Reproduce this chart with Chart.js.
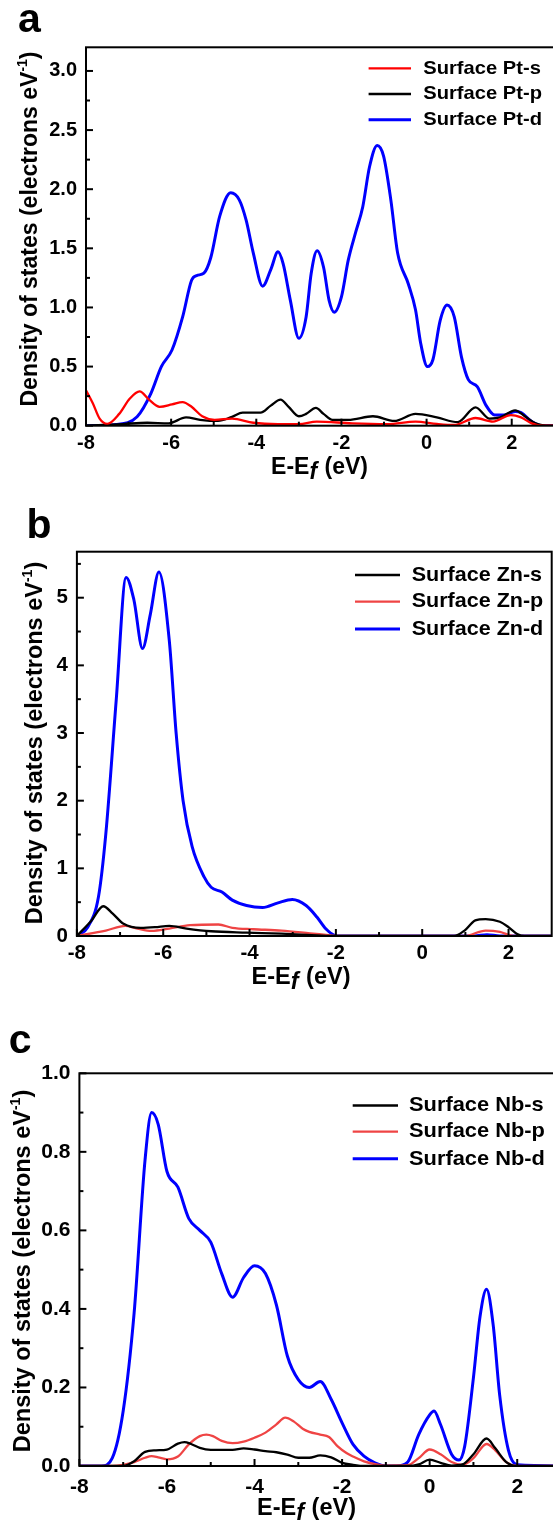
<!DOCTYPE html>
<html>
<head>
<meta charset="utf-8">
<script src="https://cdn.jsdelivr.net/npm/chart.js@4.4.0/dist/chart.umd.min.js"></script>
<style>
    html, body { margin: 0; padding: 0; background: #fff; overflow: hidden; }
    body { width: 553px; height: 1525px; position: relative; }
    canvas { position: absolute; left: 0; }
</style>
</head>
<body>
<canvas id="chartA" width="570" height="500" style="top:0px"></canvas>
<canvas id="chartB" width="570" height="500" style="top:500px"></canvas>
<canvas id="chartC" width="575" height="525" style="top:1000px"></canvas>
<script>
// x axis (E - Ef, eV), same for all panels
const xTicks = [-8, -6, -4, -2, 0, 2];
const xMinor = [-7, -5, -3, -1, 1];

// panel a: surface Pt
const ptTicks = [0, 0.5, 1, 1.5, 2, 2.5, 3];
const ptMinor = [0.25, 0.75, 1.25, 1.75, 2.25, 2.75];
const ptS_E = [-8, -7.84, -7.68, -7.5, -7.22, -6.97, -6.74, -6.52, -6.27, -5.98, -5.73, -5.52, -5.27, -4.98, -4.57, -4.07, -3.49, -3.0, -2.58, -1.75, -0.92, -0.26, 0.24, 0.65, 1.15, 1.56, 1.98, 2.22, 2.47, 2.72, 3];
const ptS = [0.30, 0.19, 0.06, 0.015, 0.10, 0.23, 0.29, 0.22, 0.16, 0.18, 0.20, 0.16, 0.08, 0.05, 0.06, 0.025, 0.014, 0.014, 0.035, 0.02, 0.014, 0.035, 0.015, 0.006, 0.065, 0.035, 0.09, 0.07, 0.02, 0, 0];
const ptP_E = [-8, -7.14, -6.56, -6.06, -5.65, -5.32, -4.9, -4.57, -4.32, -3.9, -3.66, -3.43, -3.24, -3.0, -2.83, -2.6, -2.42, -2.21, -1.84, -1.26, -0.76, -0.26, 0.24, 0.73, 1.15, 1.48, 1.73, 2.08, 2.31, 2.56, 2.9, 3];
const ptP = [0, 0.014, 0.025, 0.02, 0.07, 0.05, 0.04, 0.075, 0.11, 0.11, 0.17, 0.22, 0.16, 0.08, 0.10, 0.15, 0.10, 0.05, 0.05, 0.08, 0.04, 0.10, 0.07, 0.03, 0.155, 0.06, 0.07, 0.13, 0.08, 0.02, 0, 0];
const ptD_E = [-8, -7.3, -6.8, -6.48, -6.23, -5.98, -5.73, -5.52, -5.4, -5.23, -5.07, -4.86, -4.6, -4.4, -4.24, -4.07, -3.85, -3.66, -3.49, -3.37, -3.2, -3.0, -2.83, -2.71, -2.57, -2.42, -2.29, -2.17, -2.0, -1.84, -1.67, -1.5, -1.34, -1.16, -1.01, -0.84, -0.68, -0.43, -0.26, -0.14, 0.02, 0.15, 0.32, 0.48, 0.65, 0.82, 0.98, 1.19, 1.4, 1.6, 1.81, 2.08, 2.22, 2.47, 2.72, 3];
const ptD = [0, 0.01, 0.076, 0.27, 0.50, 0.64, 0.92, 1.23, 1.27, 1.29, 1.42, 1.77, 1.97, 1.91, 1.74, 1.46, 1.18, 1.32, 1.47, 1.37, 1.06, 0.74, 0.92, 1.29, 1.48, 1.34, 1.06, 0.96, 1.09, 1.40, 1.63, 1.85, 2.19, 2.37, 2.28, 1.91, 1.46, 1.20, 0.98, 0.70, 0.50, 0.56, 0.89, 1.02, 0.92, 0.58, 0.39, 0.33, 0.17, 0.09, 0.09, 0.12, 0.11, 0.035, 0, 0];

// panel b: surface Zn
const znTicks = [0, 1, 2, 3, 4, 5];
const znMinor = [0.5, 1.5, 2.5, 3.5, 4.5, 5.5];
const znS_E = [-8, -7.66, -7.39, -7.17, -6.92, -6.52, -6.19, -5.86, -5.46, -4.89, -4.07, -3.26, -2.44, -2.03, 0.74, 0.98, 1.23, 1.47, 1.8, 2.0, 2.2, 2.37, 3];
const znS = [0, 0.23, 0.44, 0.33, 0.18, 0.12, 0.13, 0.15, 0.11, 0.07, 0.05, 0.035, 0.01, 0, 0, 0.08, 0.23, 0.25, 0.21, 0.13, 0.03, 0, 0];
const znP_E = [-8, -7.33, -6.88, -6.6, -6.27, -5.86, -5.38, -4.72, -4.4, -3.91, -3.26, -2.6, -2.12, -1.95, 0.98, 1.47, 1.8, 2.04, 2.2, 3];
const znP = [0, 0.08, 0.15, 0.11, 0.075, 0.11, 0.16, 0.17, 0.12, 0.10, 0.08, 0.04, 0.01, 0, 0, 0.08, 0.06, 0.01, 0, 0];
const znD_E = [-8, -7.75, -7.5, -7.33, -7.09, -6.86, -6.68, -6.48, -6.3, -6.1, -5.86, -5.7, -5.54, -5.33, -5.05, -4.89, -4.64, -4.4, -4.07, -3.7, -3.34, -3.01, -2.69, -2.44, -2.24, -2.03, -1.9, 1.2, 1.5, 1.8, 3];
const znD = [0, 0.13, 0.58, 1.51, 3.48, 5.30, 4.97, 4.25, 4.75, 5.38, 4.37, 2.99, 2.0, 1.32, 0.87, 0.72, 0.65, 0.53, 0.45, 0.42, 0.49, 0.54, 0.45, 0.28, 0.11, 0.01, 0, 0, 0.02, 0, 0];

// panel c: surface Nb
const nbTicks = [0, 0.2, 0.4, 0.6, 0.8, 1.0];
const nbMinor = [0.1, 0.3, 0.5, 0.7, 0.9];
const nbS_E = [-8, -7, -6.75, -6.5, -6.25, -6.0, -5.75, -5.6, -5.45, -5.25, -5.0, -4.5, -4.25, -4.0, -3.75, -3.5, -3.25, -3.0, -2.75, -2.5, -2.25, -2.0, -1.75, -1.5, -0.5, -0.25, 0.0, 0.25, 0.5, 0.75, 1.0, 1.3, 1.5, 1.75, 2.0, 3.0];
const nbS = [0, 0, 0.012, 0.036, 0.04, 0.042, 0.057, 0.061, 0.056, 0.046, 0.041, 0.041, 0.045, 0.042, 0.038, 0.035, 0.029, 0.021, 0.021, 0.027, 0.022, 0.008, 0.003, 0, 0, 0.004, 0.016, 0.008, 0.001, 0.004, 0.03, 0.07, 0.045, 0.01, 0, 0];
const nbP_E = [-8, -7.25, -7.0, -6.75, -6.5, -6.35, -6.2, -6.0, -5.75, -5.5, -5.25, -5.1, -4.95, -4.75, -4.5, -4.25, -4.0, -3.75, -3.5, -3.3, -3.1, -2.9, -2.75, -2.5, -2.3, -2.1, -1.9, -1.75, -1.5, -1.25, -1.0, -0.5, -0.25, 0.0, 0.25, 0.5, 0.75, 1.0, 1.3, 1.5, 1.75, 2.0, 3.0];
const nbP = [0, 0, 0.003, 0.01, 0.021, 0.025, 0.022, 0.017, 0.024, 0.055, 0.076, 0.08, 0.076, 0.064, 0.058, 0.062, 0.072, 0.085, 0.106, 0.123, 0.113, 0.095, 0.087, 0.08, 0.074, 0.05, 0.033, 0.024, 0.012, 0.005, 0.001, 0.002, 0.02, 0.042, 0.03, 0.01, 0.003, 0.02, 0.056, 0.04, 0.01, 0, 0];
const nbD_E = [-8, -7.5, -7.25, -7.0, -6.75, -6.5, -6.35, -6.2, -6.0, -5.75, -5.5, -5.25, -5.0, -4.75, -4.5, -4.25, -4.0, -3.75, -3.5, -3.25, -3.0, -2.75, -2.5, -2.25, -2.0, -1.75, -1.5, -1.25, -1.0, -0.75, -0.5, -0.25, 0.0, 0.1, 0.25, 0.5, 0.67, 0.8, 1.0, 1.15, 1.3, 1.45, 1.6, 1.8, 2.0, 3.0];
const nbD = [0, 0, 0.02, 0.14, 0.39, 0.78, 0.90, 0.87, 0.75, 0.71, 0.63, 0.60, 0.57, 0.49, 0.43, 0.48, 0.51, 0.49, 0.41, 0.28, 0.22, 0.20, 0.215, 0.17, 0.11, 0.055, 0.025, 0.008, 0, 0, 0.01, 0.08, 0.13, 0.14, 0.105, 0.03, 0.015, 0.05, 0.225, 0.38, 0.45, 0.36, 0.18, 0.04, 0.003, 0];

const FONT = '"Liberation Sans", Arial, Helvetica, sans-serif';
const RED = '#ff0000';
const RED_LIGHT = '#ef4444';
const BLUE = '#0000ff';

function series(label, xs, ys, color, width) {
    return {
        label: label,
        data: xs.map((x, i) => ({ x: x, y: ys[i] })),
        borderColor: color,
        borderWidth: width,
        pointRadius: 0,
        fill: false,
        tension: 0.4,
        cubicInterpolationMode: 'monotone'
    };
}

// frame, inward ticks, legend, axis titles and panel letter
const dosDecor = {
    id: 'dosDecor',
    afterDraw(chart, args, o) {
        const ctx = chart.ctx;
        const a = chart.chartArea;
        const xs = chart.scales.x, ys = chart.scales.y;
        const line = (x1, y1, x2, y2) => {
            ctx.beginPath();
            ctx.moveTo(x1, y1);
            ctx.lineTo(x2, y2);
            ctx.stroke();
        };
        ctx.save();
        ctx.strokeStyle = '#000';
        ctx.lineWidth = 2;
        ctx.lineCap = 'butt';

        // inward ticks
        xs.ticks.forEach(t => { const p = xs.getPixelForValue(t.value); line(p, a.bottom, p, a.bottom - 7); });
        o.xMinor.forEach(v => { const p = xs.getPixelForValue(v); line(p, a.bottom, p, a.bottom - 4); });
        ys.ticks.forEach(t => { const p = ys.getPixelForValue(t.value); line(a.left, p, a.left + 7, p); });
        o.yMinor.forEach(v => { const p = ys.getPixelForValue(v); line(a.left, p, a.left + 4, p); });

        // frame
        ctx.strokeRect(a.left, a.top, a.right - a.left, a.bottom - a.top);

        // legend (text slightly widened like the source figure)
        const lg = o.legend;
        chart.data.datasets.forEach((ds, i) => {
            const ry = lg.rows[i];
            ctx.strokeStyle = ds.borderColor;
            ctx.lineWidth = ds.borderWidth;
            line(lg.x1, ry, lg.x2, ry);
            ctx.save();
            ctx.translate(lg.tx, ry);
            ctx.scale(lg.stretch, 1);
            ctx.font = 'bold ' + lg.size + 'px ' + FONT;
            ctx.textAlign = 'left';
            ctx.textBaseline = 'middle';
            ctx.fillStyle = '#000';
            ctx.fillText(ds.label, 0, 0);
            ctx.restore();
        });

        // y title with superscript
        ctx.fillStyle = '#000';
        ctx.textAlign = 'left';
        ctx.textBaseline = 'alphabetic';
        const ts = o.titleSize;
        const supSize = Math.round(ts * 0.6);
        const main = 'Density of states (electrons eV';
        ctx.font = 'bold ' + ts + 'px ' + FONT;
        const w1 = ctx.measureText(main).width;
        const w3 = ctx.measureText(')').width;
        ctx.font = 'bold ' + supSize + 'px ' + FONT;
        const w2 = ctx.measureText('-1').width;
        ctx.save();
        ctx.translate(o.yTitle.x, o.yTitle.y);
        ctx.rotate(-Math.PI / 2);
        let sx = -(w1 + w2 + w3) / 2;
        ctx.font = 'bold ' + ts + 'px ' + FONT;
        ctx.fillText(main, sx, 0);
        ctx.font = 'bold ' + supSize + 'px ' + FONT;
        ctx.fillText('-1', sx + w1, -ts * 0.42);
        ctx.font = 'bold ' + ts + 'px ' + FONT;
        ctx.fillText(')', sx + w1 + w2, 0);
        ctx.restore();

        // x title: E-E_f (eV) with italic f
        const parts = [
            { t: 'E-E', f: 'bold ' + ts + 'px ' + FONT, dy: 0 },
            { t: 'f', f: 'italic bold ' + ts + 'px ' + FONT, dy: ts * 0.22 },
            { t: ' (eV)', f: 'bold ' + ts + 'px ' + FONT, dy: 0 }
        ];
        let tw = 0;
        parts.forEach(p => { ctx.font = p.f; p.w = ctx.measureText(p.t).width; tw += p.w; });
        let px = o.xTitle.x - tw / 2;
        parts.forEach(p => {
            ctx.font = p.f;
            ctx.fillText(p.t, px, o.xTitle.y + p.dy);
            px += p.w + (p.t === 'f' ? 1 : 0);
        });

        // panel letter
        ctx.font = 'bold 41px ' + FONT;
        ctx.fillText(o.letter.t, o.letter.x, o.letter.y);
        ctx.restore();
    }
};

function makeChart(id, cfg) {
    const canvas = document.getElementById(id);
    const W = canvas.width, H = canvas.height;
    const plot = cfg.plot;
    const tickFont = { family: FONT, weight: 'bold', size: cfg.tickSize };
    return new Chart(canvas, {
        type: 'line',
        data: { datasets: cfg.datasets },
        options: {
            responsive: false,
            animation: false,
            devicePixelRatio: 1,
            layout: { padding: { left: 0, top: plot.top, right: W - plot.right, bottom: 0 } },
            scales: {
                x: {
                    type: 'linear',
                    min: -8,
                    max: 3,
                    afterFit: s => { s.height = H - plot.bottom; },
                    afterBuildTicks: s => { s.ticks = xTicks.map(v => ({ value: v })); },
                    grid: { display: false, drawTicks: false },
                    border: { display: false },
                    ticks: {
                        autoSkip: false,
                        maxRotation: 0,
                        padding: cfg.xPad,
                        color: '#000',
                        font: tickFont,
                        callback: v => String(v)
                    }
                },
                y: {
                    type: 'linear',
                    min: 0,
                    max: cfg.yMax,
                    afterFit: s => { s.width = plot.left; },
                    afterBuildTicks: s => { s.ticks = cfg.yTicks.map(v => ({ value: v })); },
                    grid: { display: false, drawTicks: false },
                    border: { display: false },
                    ticks: {
                        autoSkip: false,
                        padding: 9,
                        color: '#000',
                        font: tickFont,
                        callback: v => v.toFixed(cfg.decimals)
                    }
                }
            },
            plugins: {
                legend: { display: false },
                tooltip: { enabled: false },
                dosDecor: cfg.decor
            }
        },
        plugins: [dosDecor]
    });
}

makeChart('chartA', {
    plot: { left: 86, right: 554.3, top: 47.3, bottom: 425.7 },
    yMax: 3.2,
    yTicks: ptTicks,
    decimals: 1,
    tickSize: 20,
    xPad: 6,
    datasets: [
        series('Surface Pt-s', ptS_E, ptS, RED, 2.3),
        series('Surface Pt-p', ptP_E, ptP, '#000', 2.3),
        series('Surface Pt-d', ptD_E, ptD, BLUE, 3)
    ],
    decor: {
        xMinor: xMinor,
        yMinor: ptMinor,
        legend: { x1: 368.6, x2: 411, tx: 423.3, rows: [68.3, 94, 119.7], size: 19, stretch: 1.06 },
        titleSize: 23,
        yTitle: { x: 37, y: 229 },
        xTitle: { x: 319, y: 474 },
        letter: { t: 'a', x: 18, y: 32 }
    }
});

makeChart('chartB', {
    plot: { left: 76.9, right: 551.7, top: 51.7, bottom: 436 },
    yMax: 5.68,
    yTicks: znTicks,
    decimals: 0,
    tickSize: 20.5,
    xPad: 5,
    datasets: [
        series('Surface Zn-s', znS_E, znS, '#000', 2.3),
        series('Surface Zn-p', znP_E, znP, RED_LIGHT, 2.3),
        series('Surface Zn-d', znD_E, znD, BLUE, 3)
    ],
    decor: {
        xMinor: xMinor,
        yMinor: znMinor,
        legend: { x1: 355, x2: 400, tx: 411.7, rows: [75, 101.7, 129], size: 20.5, stretch: 1.05 },
        titleSize: 23.5,
        yTitle: { x: 42, y: 243 },
        xTitle: { x: 300.5, y: 484 },
        letter: { t: 'b', x: 26.5, y: 38 }
    }
});

makeChart('chartC', {
    plot: { left: 79.4, right: 561, top: 73.3, bottom: 466 },
    yMax: 1.0,
    yTicks: nbTicks,
    decimals: 1,
    tickSize: 21,
    xPad: 8.5,
    datasets: [
        series('Surface Nb-s', nbS_E, nbS, '#000', 2.3),
        series('Surface Nb-p', nbP_E, nbP, RED_LIGHT, 2.3),
        series('Surface Nb-d', nbD_E, nbD, BLUE, 3)
    ],
    decor: {
        xMinor: xMinor,
        yMinor: nbMinor,
        legend: { x1: 352.7, x2: 398, tx: 409, rows: [105.5, 131.7, 158.8], size: 21, stretch: 1.04 },
        titleSize: 23.5,
        yTitle: { x: 30, y: 271 },
        xTitle: { x: 306, y: 515 },
        letter: { t: 'c', x: 8.8, y: 53.3 }
    }
});
</script>
</body>
</html>
